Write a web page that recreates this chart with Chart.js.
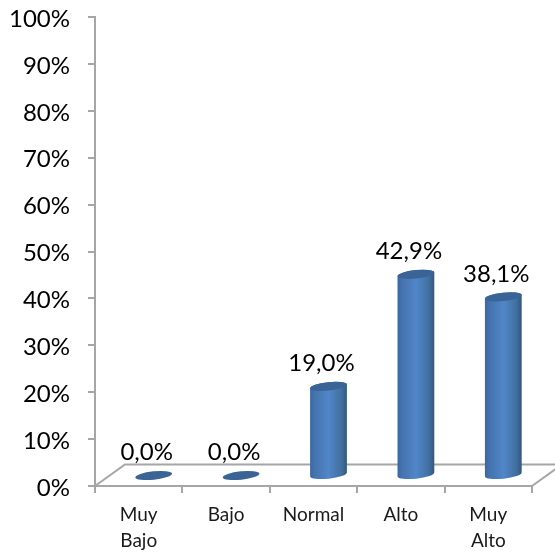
<!DOCTYPE html>
<html>
<head>
<meta charset="utf-8">
<script src="https://cdn.jsdelivr.net/npm/chart.js@4"></script>
<style>
html, body { margin: 0; padding: 0; background: #fff; }
#wrap { width: 555px; height: 552px; overflow: hidden; }
</style>
</head>
<body>
<div id="wrap"><canvas id="chart" width="555" height="552"></canvas></div>
<script>
const categories = [['Muy', 'Bajo'], 'Bajo', 'Normal', 'Alto', ['Muy', 'Alto']];
const values = [0, 0, 19.0, 42.9, 38.1];
const yTicks = [0, 10, 20, 30, 40, 50, 60, 70, 80, 90, 100];

const fontName = 'Lato, "Open Sans", sans-serif';
const axisGray = '#a6a6a6';
// 3d look: bars are pushed back onto the floor
const depthX = 15;
const depthY = 10.5;

const cylinders = {
    id: 'cylinders',
    beforeDatasetsDraw(chart) {
        // floor
        const c = chart.ctx, a = chart.chartArea;
        c.save();
        c.strokeStyle = axisGray;
        c.lineWidth = 2;
        c.beginPath();
        c.moveTo(a.left, a.bottom);
        c.lineTo(a.left + 30, a.bottom - 21.5);
        c.lineTo(a.right + 30, a.bottom - 21.5);
        c.lineTo(a.right, a.bottom);
        c.stroke();
        c.restore();
    },
    beforeDatasetDraw(chart, args) {
        const c = chart.ctx;
        const rot = -6 * Math.PI / 180;
        args.meta.data.forEach(function (el, i) {
            const cx = el.x + depthX;
            const top = el.y - depthY;
            const base = el.base - depthY;
            const rx = el.width / 2, ry = 4.2;
            c.save();
            if (values[i] > 0) {
                const g = c.createLinearGradient(cx - rx, 0, cx + rx, 0);
                g.addColorStop(0, '#3a669f');
                g.addColorStop(0.12, '#4473ae');
                g.addColorStop(0.5, '#5186c9');
                g.addColorStop(0.85, '#41709f');
                g.addColorStop(1, '#33557f');
                c.fillStyle = g;
                c.beginPath();
                c.ellipse(cx, base, rx, ry, rot, 0, Math.PI);
                c.ellipse(cx, top, rx, ry, rot, Math.PI, 2 * Math.PI);
                c.closePath();
                c.fill();
            }
            c.fillStyle = '#3a6496';
            c.beginPath();
            c.ellipse(cx, top, rx, ry, rot, 0, 2 * Math.PI);
            c.fill();
            // value label
            c.fillStyle = '#000';
            c.font = '24px ' + fontName;
            c.textAlign = 'center';
            c.textBaseline = 'middle';
            c.fillText(values[i].toFixed(1).replace('.', ',') + '%', el.x + 8, top - 23);
            c.restore();
        });
        return false;
    }
};

new Chart(document.getElementById('chart'), {
    type: 'bar',
    data: {
        labels: categories,
        datasets: [{
            data: values,
            backgroundColor: '#4f81bd',
            categoryPercentage: 1,
            barPercentage: 0.423
        }]
    },
    options: {
        responsive: false,
        animation: false,
        layout: { padding: { top: 17, right: 23, left: 0, bottom: 0 } },
        plugins: {
            legend: { display: false },
            tooltip: { enabled: false }
        },
        scales: {
            x: {
                afterFit(s) { s.height = 66; },
                border: { color: axisGray, width: 2 },
                grid: { drawOnChartArea: false, color: axisGray, lineWidth: 2, tickLength: 7 },
                ticks: {
                    color: '#1a1a1a',
                    maxRotation: 0,
                    autoSkip: false,
                    padding: 9,
                    font: { family: fontName, size: 19, lineHeight: 1.37 }
                }
            },
            y: {
                min: 0,
                max: 100,
                afterFit(s) { s.width = 95; s.paddingTop = 0; s.paddingBottom = 0; },
                afterBuildTicks(s) { s.ticks = yTicks.map(v => ({ value: v })); },
                border: { color: axisGray, width: 2 },
                grid: { drawOnChartArea: false, color: axisGray, lineWidth: 2, tickLength: 7 },
                ticks: {
                    color: '#000',
                    padding: 18,
                    labelOffset: 2,
                    font: { family: fontName, size: 24 },
                    callback: v => v + '%'
                }
            }
        }
    },
    plugins: [cylinders]
});
</script>
</body>
</html>
